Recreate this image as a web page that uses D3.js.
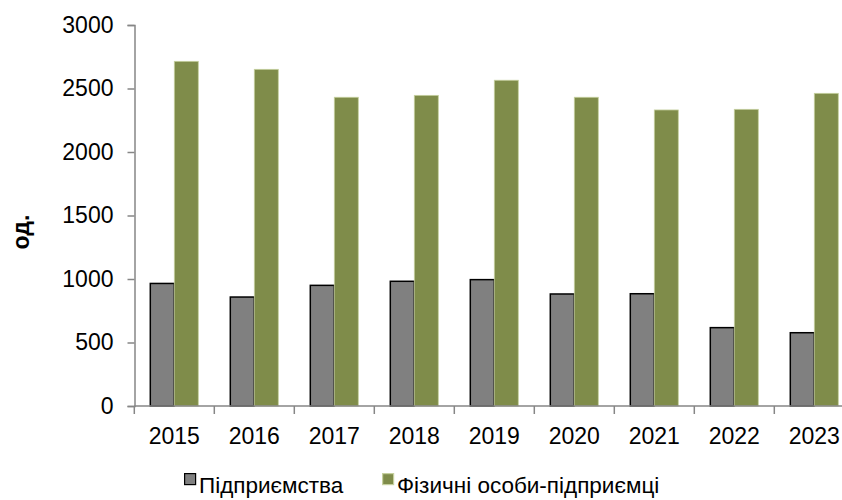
<!DOCTYPE html>
<html>
<head>
<meta charset="utf-8">
<script src="https://cdn.jsdelivr.net/npm/d3@7"></script>
<style>
  body { margin: 0; background: #fff; }
  text { font-family: "Liberation Sans", Arial, sans-serif; }
</style>
</head>
<body>
<div id="chart"></div>
<script>
"use strict"

// data
let years = ["2015", "2016", "2017", "2018", "2019", "2020", "2021", "2022", "2023"];
let companies = [965, 858, 950, 982, 995, 882, 884, 617, 577];
let entrepreneurs = [2714, 2651, 2431, 2446, 2565, 2431, 2331, 2336, 2462];
let seriesNames = ["Підприємства", "Фізичні особи-підприємці"];
let yTicks = [0, 500, 1000, 1500, 2000, 2500, 3000];

let width = 842, height = 500;
let fontSize = 23;

let drawing = d3.select("#chart")
    .append("svg")
    .attr("width", width)
    .attr("height", height);

// plot area runs past the right edge, like the original crop
let x = d3.scaleBand()
    .domain(years)
    .range([134.3, 134.3 + 80 * years.length])
    .paddingInner(0)
    .paddingOuter(0);

let y = d3.scaleLinear()
    .domain([0, 3000])
    .range([406, 25]);

let barW = 24;
let gapLeft = (x.bandwidth() - 2 * barW) / 2;

// y axis
let yAxis = drawing.append("g")
    .attr("transform", "translate(134.5,0)")
    .call(d3.axisLeft(y).tickValues(yTicks).tickFormat(d3.format("d")).tickSize(7).tickPadding(14));
yAxis.attr("font-size", fontSize).attr("font-family", null);
yAxis.select(".domain").attr("stroke", "#868686").attr("stroke-width", 1.5);
yAxis.selectAll(".tick line").attr("stroke", "#868686").attr("stroke-width", 1.5);
yAxis.selectAll(".tick text").attr("fill", "#000");

// bars - companies (gray with black outline)
drawing.append("g").selectAll("rect")
    .data(companies)
    .join("rect")
    .attr("x", (d, i) => x(years[i]) + gapLeft)
    .attr("y", d => y(d))
    .attr("width", barW)
    .attr("height", d => y(0) - y(d))
    .attr("fill", "#808080")
    .attr("stroke", "#000")
    .attr("stroke-width", 1.5);

// bars - entrepreneurs (olive green, light edge)
drawing.append("g").selectAll("rect")
    .data(entrepreneurs)
    .join("rect")
    .attr("x", (d, i) => x(years[i]) + gapLeft + barW)
    .attr("y", d => y(d))
    .attr("width", barW)
    .attr("height", d => y(0) - y(d))
    .attr("fill", "#7f8c4a")
    .attr("stroke", "#c6d09f")
    .attr("stroke-width", 0.8);

// x axis
let xAxis = drawing.append("g")
    .attr("transform", "translate(0,406)")
    .call(d3.axisBottom(x).tickSize(0).tickPadding(21.5).tickSizeOuter(0));
xAxis.attr("font-size", fontSize).attr("font-family", null);
xAxis.select(".domain").attr("stroke", "#868686").attr("stroke-width", 1.5)
    .attr("d", "M134.3,0H" + width);
xAxis.selectAll(".tick text").attr("fill", "#000");

// category separator ticks
drawing.append("g").selectAll("line")
    .data(years.concat(["end"]))
    .join("line")
    .attr("x1", (d, i) => 134.3 + 80 * i)
    .attr("x2", (d, i) => 134.3 + 80 * i)
    .attr("y1", 406)
    .attr("y2", 414)
    .attr("stroke", "#868686")
    .attr("stroke-width", 1.5);

// y label
drawing.append("text")
    .attr("transform", "translate(29,232) rotate(-90)")
    .attr("text-anchor", "middle")
    .attr("font-size", fontSize)
    .attr("font-weight", "bold")
    .text("од.");

// legend
let legendX = [184, 382];
let legendColors = ["#808080", "#7f8c4a"];
let legendStroke = ["#000", "#c6d09f"];
let legend = drawing.append("g").selectAll("g")
    .data(seriesNames)
    .join("g")
    .attr("transform", (d, i) => "translate(" + legendX[i] + ",473)");
legend.append("rect")
    .attr("x", 0.6)
    .attr("y", 0.6)
    .attr("width", 11)
    .attr("height", 11)
    .attr("fill", (d, i) => legendColors[i])
    .attr("stroke", (d, i) => legendStroke[i])
    .attr("stroke-width", 1.2);
legend.append("text")
    .attr("x", 15)
    .attr("y", 20)
    .attr("font-size", 22.5)
    .text(d => d);
</script>
</body>
</html>
